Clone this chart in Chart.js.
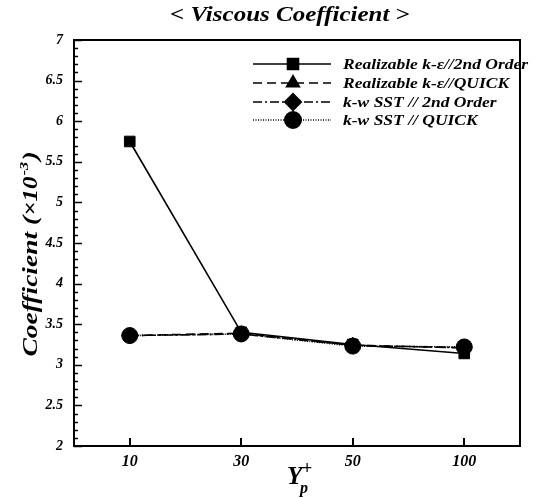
<!DOCTYPE html>
<html>
<head>
<meta charset="utf-8">
<script src="https://cdn.jsdelivr.net/npm/chart.js@4.4.1/dist/chart.umd.min.js"></script>
<style>
  html, body { margin: 0; padding: 0; background: #fff; }
  canvas { display: block; }
</style>
</head>
<body>
<canvas id="chart" width="543" height="497"></canvas>
<script>
// data
const categories = ['10', '30', '50', '100'];
const realizable2nd = [5.75, 3.40, 3.25, 3.14];
const realizableQuick = [3.36, 3.39, 3.24, 3.21];
const sst2nd = [3.36, 3.38, 3.24, 3.21];
const sstQuick = [3.36, 3.38, 3.23, 3.22];
const seriesNames = [
  'Realizable k-\u03b5//2nd Order',
  'Realizable k-\u03b5//QUICK',
  'k-w SST // 2nd Order',
  'k-w SST // QUICK'
];

const SERIF = '"Liberation Serif", "DejaVu Serif", serif';
const STRETCH = 1.25; // text in the picture is drawn a bit wide

// write text pieces one after another, stretched sideways
function stretchedText(ctx, parts, x, y, align) {
  let total = 0;
  parts.forEach(p => { ctx.font = p.font; total += ctx.measureText(p.text).width + (p.gap || 0); });
  ctx.save();
  ctx.translate(x, y);
  ctx.scale(STRETCH, 1);
  let cx = align === 'center' ? -total / 2 : 0;
  ctx.textAlign = 'left';
  parts.forEach(p => {
    ctx.font = p.font;
    ctx.fillText(p.text, cx + (p.gap || 0), p.dy || 0);
    cx += ctx.measureText(p.text).width + (p.gap || 0);
  });
  ctx.restore();
}

// inward ticks, frame, titles and legend
const decorPlugin = {
  id: 'decor',
  afterDraw(chart) {
    const ctx = chart.ctx;
    const area = chart.chartArea;
    const x = chart.scales.x;
    const y = chart.scales.y;
    ctx.save();
    ctx.strokeStyle = '#000';

    // y ticks, every 0.1, major every 0.5
    ctx.lineWidth = 1.5;
    for (let i = 20; i <= 70; i++) {
      const py = Math.round(y.getPixelForValue(i / 10)) + 0.5;
      const len = i % 5 === 0 ? 8 : 4;
      ctx.beginPath();
      ctx.moveTo(area.left, py);
      ctx.lineTo(area.left + len, py);
      ctx.stroke();
    }
    // x ticks
    ctx.lineWidth = 2;
    categories.forEach((c, i) => {
      const px = Math.round(x.getPixelForValue(i));
      ctx.beginPath();
      ctx.moveTo(px, area.bottom);
      ctx.lineTo(px, area.bottom - 8);
      ctx.stroke();
    });

    // frame
    ctx.lineWidth = 2;
    ctx.strokeRect(area.left, area.top, area.right - area.left, area.bottom - area.top);

    ctx.fillStyle = '#000';
    ctx.textBaseline = 'alphabetic';

    // title
    stretchedText(ctx, [
      { text: '< ', font: 'bold 20px ' + SERIF },
      { text: 'Viscous Coefficient', font: 'bold italic 20px ' + SERIF },
      { text: ' >', font: 'bold 20px ' + SERIF }
    ], 290, 21, 'center');

    // x title Y_p^+
    const cx = (area.left + area.right) / 2;
    ctx.textAlign = 'left';
    ctx.font = 'bold italic 25px ' + SERIF;
    ctx.fillText('Y', cx - 10, 484);
    ctx.font = 'bold italic 16px ' + SERIF;
    ctx.fillText('p', cx + 3, 493);
    ctx.font = 'bold 18px ' + SERIF;
    ctx.fillText('+', cx + 5, 474);

    // y title
    ctx.save();
    ctx.translate(37, 254);
    ctx.rotate(-Math.PI / 2);
    stretchedText(ctx, [
      { text: 'Coefficient (', font: 'bold italic 22px ' + SERIF },
      { text: '\u00d710', font: 'bold italic 20px ' + SERIF },
      { text: '-3', font: 'bold italic 13px ' + SERIF, dy: -9, gap: 1 },
      { text: ')', font: 'bold italic 22px ' + SERIF, gap: 1 }
    ], 0, 0, 'center');
    ctx.restore();

    // legend
    const rows = [64, 83, 102, 120];
    chart.data.datasets.forEach((ds, i) => {
      const ly = rows[i];
      ctx.save();
      ctx.lineWidth = ds.borderWidth;
      ctx.setLineDash(ds.borderDash || []);
      ctx.beginPath();
      ctx.moveTo(253, ly);
      ctx.lineTo(331, ly);
      ctx.stroke();
      ctx.restore();
      Chart.helpers.drawPoint(ctx, {
        pointStyle: ds.pointStyle,
        radius: ds.pointRadius,
        rotation: 0,
        borderWidth: 1
      }, 293, ly);
      ctx.fillStyle = '#000';
      ctx.fill();
      ctx.textBaseline = 'middle';
      stretchedText(ctx, [{ text: seriesNames[i], font: 'bold italic 14px ' + SERIF }], 343, ly + 1, 'left');
    });

    ctx.restore();
  }
};

function makeSet(label, data, dash, style, radius, order) {
  return {
    label: label,
    data: data,
    borderColor: '#000',
    backgroundColor: '#000',
    borderWidth: 1.6,
    borderDash: dash,
    pointStyle: style,
    pointRadius: radius,
    pointHoverRadius: radius,
    pointBackgroundColor: '#000',
    pointBorderColor: '#000',
    pointBorderWidth: 1,
    tension: 0,
    fill: false,
    order: order
  };
}

new Chart(document.getElementById('chart'), {
  type: 'line',
  data: {
    labels: categories,
    datasets: [
      makeSet(seriesNames[0], realizable2nd, [], 'rect', 7.5, 3),
      makeSet(seriesNames[1], realizableQuick, [9, 5], 'triangle', 7, 2),
      makeSet(seriesNames[2], sst2nd, [9, 3, 2, 3], 'rectRot', 8, 1),
      makeSet(seriesNames[3], sstQuick, [1, 1.5], 'circle', 8, 0)
    ]
  },
  options: {
    responsive: false,
    animation: false,
    devicePixelRatio: 1,
    layout: { padding: { top: 40, right: 23, left: 0, bottom: 0 } },
    plugins: {
      legend: { display: false },
      title: { display: false },
      tooltip: { enabled: false }
    },
    scales: {
      x: {
        type: 'category',
        offset: true,
        grid: { display: false, drawTicks: false },
        border: { display: false },
        ticks: {
          color: '#000',
          padding: 6,
          font: { family: SERIF, size: 16, style: 'italic', weight: 'bold' }
        },
        afterFit(s) { s.height = 51; }
      },
      y: {
        min: 2,
        max: 7,
        grid: { display: false, drawTicks: false },
        border: { display: false },
        ticks: {
          stepSize: 0.5,
          color: '#000',
          padding: 11,
          font: { family: SERIF, size: 14, style: 'italic', weight: 'bold' },
          callback: v => String(Math.round(v * 10) / 10)
        },
        afterFit(s) { s.width = 74; }
      }
    }
  },
  plugins: [decorPlugin]
});
</script>
</body>
</html>
